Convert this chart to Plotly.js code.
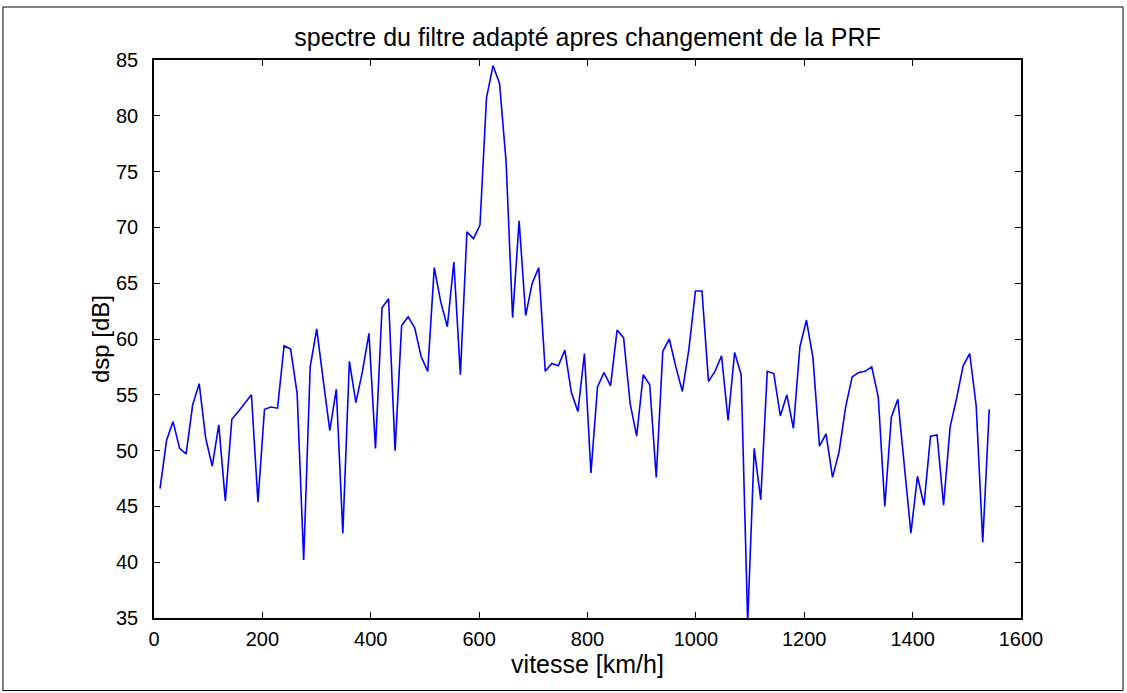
<!DOCTYPE html>
<html>
<head>
<meta charset="utf-8">
<script src="https://cdn.plot.ly/plotly-3.0.1.min.js"></script>
<style>
  html, body { margin: 0; padding: 0; background: #fff; }
  #chart { width: 1127px; height: 693px; }
</style>
</head>
<body>
<div id="chart"></div>
<script>
// Spectrum values (dB), 128 samples
const dsp = [
  46.6, 50.9, 52.6, 50.2, 49.7, 54.1, 56.0, 51.1, 48.6, 52.3,
  45.5, 52.8, 53.5, 54.2, 55.0, 45.4, 53.7, 53.9, 53.8, 59.4,
  59.1, 55.1, 40.2, 57.5, 60.9, 56.3, 51.8, 55.5, 42.6, 58.0,
  54.3, 57.1, 60.5, 50.2, 62.8, 63.6, 50.0, 61.2, 62.0, 61.0,
  58.4, 57.1, 66.4, 63.3, 61.1, 66.9, 56.8, 69.6, 69.0, 70.2,
  81.6, 84.5, 82.9, 75.9, 61.9, 70.6, 62.1, 65.0, 66.4, 57.1,
  57.8, 57.6, 59.0, 55.2, 53.5, 58.7, 48.0, 55.7, 57.0, 55.8,
  60.8, 60.1, 54.2, 51.3, 56.8, 55.9, 47.6, 58.9, 60.0, 57.5,
  55.3, 59.1, 64.3, 64.3, 56.2, 57.1, 58.5, 52.7, 58.8, 56.8,
  34.6, 50.2, 45.6, 57.1, 56.9, 53.1, 55.0, 52.0, 59.3, 61.7,
  58.3, 50.4, 51.5, 47.6, 49.9, 53.9, 56.6, 57.0, 57.1, 57.5,
  54.8, 45.0, 53.0, 54.6, 48.9, 42.6, 47.7, 45.1, 51.3, 51.4,
  45.1, 52.1, 54.7, 57.6, 58.7, 54.0, 41.8, 53.7
];
// Velocity sampling grid (km/h): first bin and bin spacing
const vitesseStart = 11.1;
const vitesseStep = 12.05;
const vitesse = dsp.map((_, i) => vitesseStart + i * vitesseStep);

const xTicks = [0, 200, 400, 600, 800, 1000, 1200, 1400, 1600];
const yTicks = [35, 40, 45, 50, 55, 60, 65, 70, 75, 80, 85];

const titleText = 'spectre du filtre adapté apres changement de la PRF';
const xTitle = 'vitesse [km/h]';
const yTitle = 'dsp [dB]';

const FONT = 'Liberation Sans, Arial, sans-serif';
const TICK_SIZE = 20;
const LABEL_SIZE = 24;

const trace = {
  x: vitesse,
  y: dsp,
  type: 'scatter',
  mode: 'lines',
  line: { color: '#0000ff', width: 1.6 },
  hoverinfo: 'x+y'
};

const axisCommon = {
  showline: true,
  linecolor: '#000',
  linewidth: 1.5,
  mirror: 'allticks',
  ticks: 'inside',
  ticklen: 6,
  tickwidth: 1,
  tickcolor: '#000',
  showgrid: false,
  zeroline: false,
  tickfont: { family: FONT, size: TICK_SIZE, color: '#000' }
};

const layout = {
  width: 1127,
  height: 693,
  paper_bgcolor: '#fff',
  plot_bgcolor: '#fff',
  margin: { l: 154, r: 106, t: 60, b: 75 },
  showlegend: false,
  title: {
    text: titleText,
    font: { family: FONT, size: 25, color: '#000' },
    x: 0.5, xref: 'paper', xanchor: 'center',
    y: 1 - 37 / 693, yref: 'container', yanchor: 'middle'
  },
  xaxis: Object.assign({}, axisCommon, {
    range: [0, 1600],
    tickvals: xTicks,
    ticktext: xTicks.map(String),
    ticklabelstandoff: 2,
    title: { text: xTitle, font: { family: FONT, size: 25, color: '#000' }, standoff: 4 }
  }),
  yaxis: Object.assign({}, axisCommon, {
    range: [35, 85],
    tickvals: yTicks,
    ticktext: yTicks.map(String),
    ticklabelstandoff: 10,
    title: { text: yTitle, font: { family: FONT, size: LABEL_SIZE, color: '#000' }, standoff: 0 }
  }),
  shapes: [{
    type: 'rect', xref: 'paper', yref: 'paper',
    x0: -0.1742, x1: 1.1177, y0: -0.13, y1: 1.095,
    line: { color: '#000', width: 1 }, fillcolor: 'rgba(0,0,0,0)', layer: 'above'
  }]
};

Plotly.newPlot('chart', [trace], layout, { displayModeBar: false });
</script>
</body>
</html>
